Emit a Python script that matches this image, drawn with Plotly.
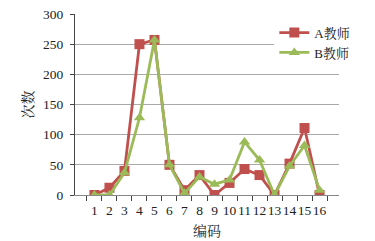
import plotly.graph_objects as go

codes = [str(i) for i in range(1, 17)]
teacher_a = [0, 12, 40, 250, 257, 50, 8, 33, 0, 20, 43, 33, 0, 52, 111, 0]
teacher_b = [0, 0, 37, 128, 257, 50, 3, 30, 18, 25, 88, 58, 0, 48, 82, 8]
y_ticks = [0, 50, 100, 150, 200, 250, 300]

red = "#C0504D"
green = "#9BBB59"
font_family = "'Liberation Serif', 'Times New Roman', 'Noto Serif CJK SC', 'Noto Sans CJK SC', serif"

fig = go.Figure()
fig.add_trace(go.Scatter(x=codes, y=teacher_a, name="A教师", mode="lines+markers",
                         line=dict(color=red, width=2.8),
                         marker=dict(symbol="square", size=10, color=red)))
fig.add_trace(go.Scatter(x=codes, y=teacher_b, name="B教师", mode="lines+markers",
                         line=dict(color=green, width=2.8),
                         marker=dict(symbol="triangle-up", size=10, color=green)))

fig.update_layout(
    width=375, height=241,
    margin=dict(l=75, r=36, t=14, b=46, autoexpand=False),
    paper_bgcolor="white", plot_bgcolor="white",
    font=dict(family=font_family, size=12, color="#222"),
    showlegend=True,
    legend=dict(x=0.755, y=0.98, xanchor="left", yanchor="top",
                bgcolor="white", font=dict(size=13, family=font_family),
                itemwidth=30, tracegroupgap=0),
)
fig.update_xaxes(type="category", tickmode="array", tickvals=codes, ticktext=codes,
                 ticks="outside", tickson="boundaries", ticklen=5,
                 tickangle=0, automargin=False, ticklabelstandoff=3,
                 tickcolor="#444", showline=True, linecolor="#888", linewidth=1,
                 showgrid=False, title=dict(text="编码", font=dict(size=14), standoff=8),
                 tickfont=dict(size=13.5))
fig.update_yaxes(range=[0, 300], tickvals=y_ticks, ticks="outside", ticklen=4,
                 automargin=False, ticklabelstandoff=4,
                 tickcolor="#444", showline=True, linecolor="#444", linewidth=1,
                 showgrid=True, gridcolor="#aaa", gridwidth=1, zeroline=False,
                 title=dict(text="次数", font=dict(size=14), standoff=6),
                 tickfont=dict(size=13.5))

fig.write_html("out.html")
